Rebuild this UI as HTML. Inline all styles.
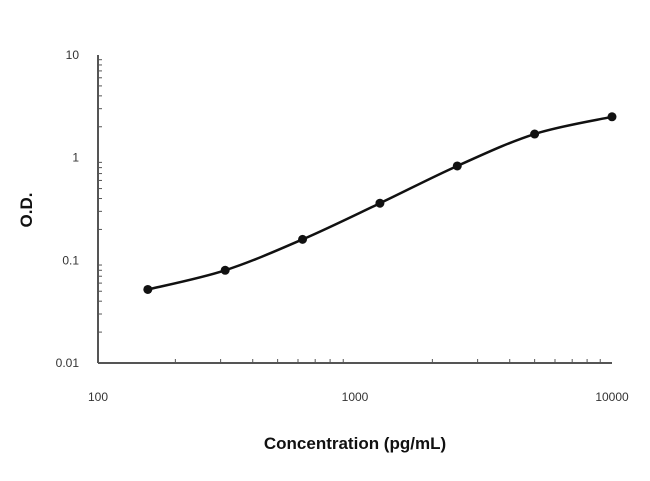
<!DOCTYPE html>
<html><head><meta charset="utf-8"><style>
html,body{margin:0;padding:0;background:#fff}
svg text{font-family:"Liberation Sans",sans-serif}
</style></head><body>
<svg id="chart" width="650" height="476" viewBox="0 0 650 476"></svg>
<script>
const concentrations=[156.25,312.5,625,1250,2500,5000,10000];
const odValues=[0.052,0.08,0.16,0.36,0.83,1.7,2.5];
const xTickValues=[100,1000,10000];
const xTickLabels=["100","1000","10000"];
const yTickValues=[0.01,0.1,1,10];
const yTickLabels=["0.01","0.1","1","10"];
const svg=document.getElementById('chart');
const NS='http://www.w3.org/2000/svg';
const X0=98,X1=612,Y0=363,Y1=55;
function xs(v){return X0+(Math.log10(v)-2)/2*(X1-X0);}
function ys(v){return Y0-(Math.log10(v)+2)/3*(Y0-Y1);}
function mk(t,a){const e=document.createElementNS(NS,t);for(const k in a)e.setAttribute(k,a[k]);svg.appendChild(e);return e;}
let e;
e=mk('line',{x1:X0,y1:Y1,x2:X0,y2:Y0,stroke:'#555','stroke-width':2});


e=mk('line',{x1:X0,y1:Y0,x2:X1,y2:Y0,stroke:'#555','stroke-width':2});


for(let d=-2;d<1;d++){for(let m=2;m<=9;m++){const v=m*Math.pow(10,d);
e=mk('line',{x1:X0,y1:ys(v),x2:X0+4,y2:ys(v),stroke:'#555','stroke-width':1});

}}
for(let d=2;d<4;d++){for(let m=2;m<=9;m++){const v=m*Math.pow(10,d);
e=mk('line',{x1:xs(v),y1:Y0,x2:xs(v),y2:Y0-4,stroke:'#555','stroke-width':1});

}}
yTickValues.forEach((v,i)=>{
e=mk('text',{x:X0-19,y:ys(v)+4,'text-anchor':'end','font-size':12,fill:'#333'});e.textContent=yTickLabels[i];

});
xTickValues.forEach((v,i)=>{
e=mk('text',{x:xs(v),y:Y0+38,'text-anchor':'middle','font-size':12,fill:'#333'});e.textContent=xTickLabels[i];

});
// smooth curve through points (Catmull-Rom)
const P=concentrations.map((c,i)=>[xs(c),ys(odValues[i])]);
let d='M'+P[0][0]+','+P[0][1];
for(let i=0;i<P.length-1;i++){const p0=P[Math.max(0,i-1)],p1=P[i],p2=P[i+1],p3=P[Math.min(P.length-1,i+2)];
d+=' C'+(p1[0]+(p2[0]-p0[0])/6)+','+(p1[1]+(p2[1]-p0[1])/6)+' '+(p2[0]-(p3[0]-p1[0])/6)+','+(p2[1]-(p3[1]-p1[1])/6)+' '+p2[0]+','+p2[1];}
e=mk('path',{d:d,fill:'none',stroke:'#111','stroke-width':2.5});


P.forEach(p=>{e=mk('circle',{cx:p[0],cy:p[1],r:4.5,fill:'#111'});

});
e=mk('text',{x:355,y:449,'text-anchor':'middle','font-size':17,'font-weight':'bold',fill:'#111'});e.textContent='Concentration (pg/mL)';


e=mk('text',{x:0,y:0,'text-anchor':'middle','font-size':17,'font-weight':'bold',fill:'#111',transform:'translate(32,210) rotate(-90)'});e.textContent='O.D.';


</script>
</body></html>
